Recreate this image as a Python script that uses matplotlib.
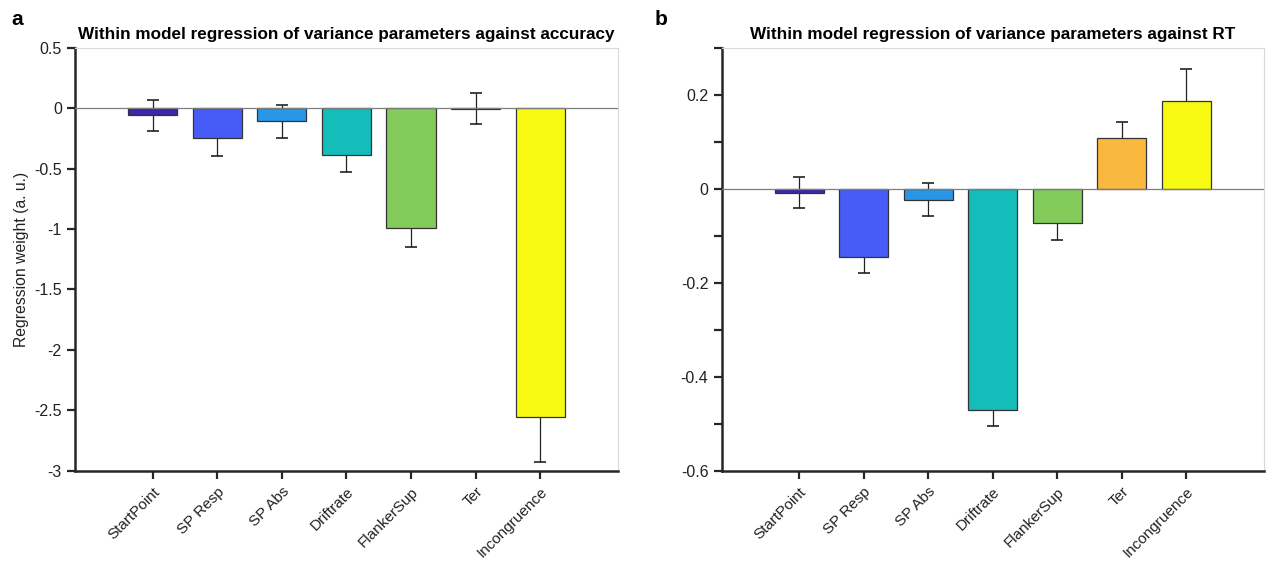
import matplotlib.pyplot as plt
import numpy as np
from matplotlib.ticker import FuncFormatter, MultipleLocator

plt.rcParams['font.family'] = ['Liberation Sans', 'DejaVu Sans']

params = ['StartPoint', 'SP Resp', 'SP Abs', 'Driftrate', 'FlankerSup', 'Ter', 'Incongruence']
colors = ['#3b28a8', '#475bf7', '#2a96e6', '#14bdb9', '#83cb5a', '#fbb83e', '#f8fa14']

# panel a: accuracy
acc_w = [-0.06, -0.25, -0.11, -0.385, -0.99, -0.005, -2.555]
acc_se = [0.13, 0.15, 0.14, 0.14, 0.16, 0.13, 0.37]

# panel b: RT
rt_w = [-0.009, -0.145, -0.023, -0.471, -0.074, 0.107, 0.187]
rt_se = [0.033, 0.034, 0.035, 0.034, 0.035, 0.035, 0.068]

fmt = FuncFormatter(lambda v, p: '%g' % round(v, 3))


def panel(ax, w, se, title, ylim, major, minor=None):
    x = np.arange(1, len(w) + 1)
    ax.errorbar(x, w, yerr=se, fmt='none', ecolor='#222222', elinewidth=0.9,
                capsize=4, capthick=1.2, zorder=1)
    ax.bar(x, w, width=0.76, color=colors, edgecolor='#333333', linewidth=0.9, zorder=2)
    ax.axhline(0, color='#7f7f7f', linewidth=0.9, zorder=3)
    ax.set_xlim(-0.2, 8.2)
    ax.set_ylim(*ylim)
    ax.set_xticks(x)
    ax.set_xticklabels(params, rotation=45, ha='right', rotation_mode='anchor', fontsize=11)
    ax.yaxis.set_major_locator(MultipleLocator(major))
    if minor:
        ax.yaxis.set_minor_locator(MultipleLocator(minor))
        ax.tick_params(axis='y', which='minor', direction='out', length=6, width=1.6, color='#262626')
    ax.yaxis.set_major_formatter(fmt)
    ax.tick_params(axis='both', which='major', direction='out', length=6, width=1.6,
                   color='#262626', labelsize=11.5, labelcolor='#222222')
    ax.tick_params(axis='x', pad=4, labelsize=11)
    for s in ['left', 'bottom']:
        ax.spines[s].set_linewidth(1.8)
        ax.spines[s].set_color('#262626')
    for s in ['top', 'right']:
        ax.spines[s].set_linewidth(0.8)
        ax.spines[s].set_color('#d9d9d9')
    ax.set_title(title, fontsize=12.3, fontweight='bold', pad=6)


fig = plt.figure(figsize=(12.69, 5.66), dpi=100)
ax1 = fig.add_axes([0.0591, 0.1684, 0.4277, 0.7473])
ax2 = fig.add_axes([0.5687, 0.1684, 0.4273, 0.7473])

panel(ax1, acc_w, acc_se, 'Within model regression of variance parameters against accuracy',
      (-3, 0.5), 0.5)
ax1.set_ylabel('Regression weight (a. u.)', fontsize=11.3, color='#222222', labelpad=4)

panel(ax2, rt_w, rt_se, 'Within model regression of variance parameters against RT',
      (-0.6, 0.3), 0.2, 0.1)

fig.text(0.009, 0.955, 'a', fontsize=15, fontweight='bold')
fig.text(0.516, 0.955, 'b', fontsize=15, fontweight='bold')

fig.savefig('out.png', dpi=100)
